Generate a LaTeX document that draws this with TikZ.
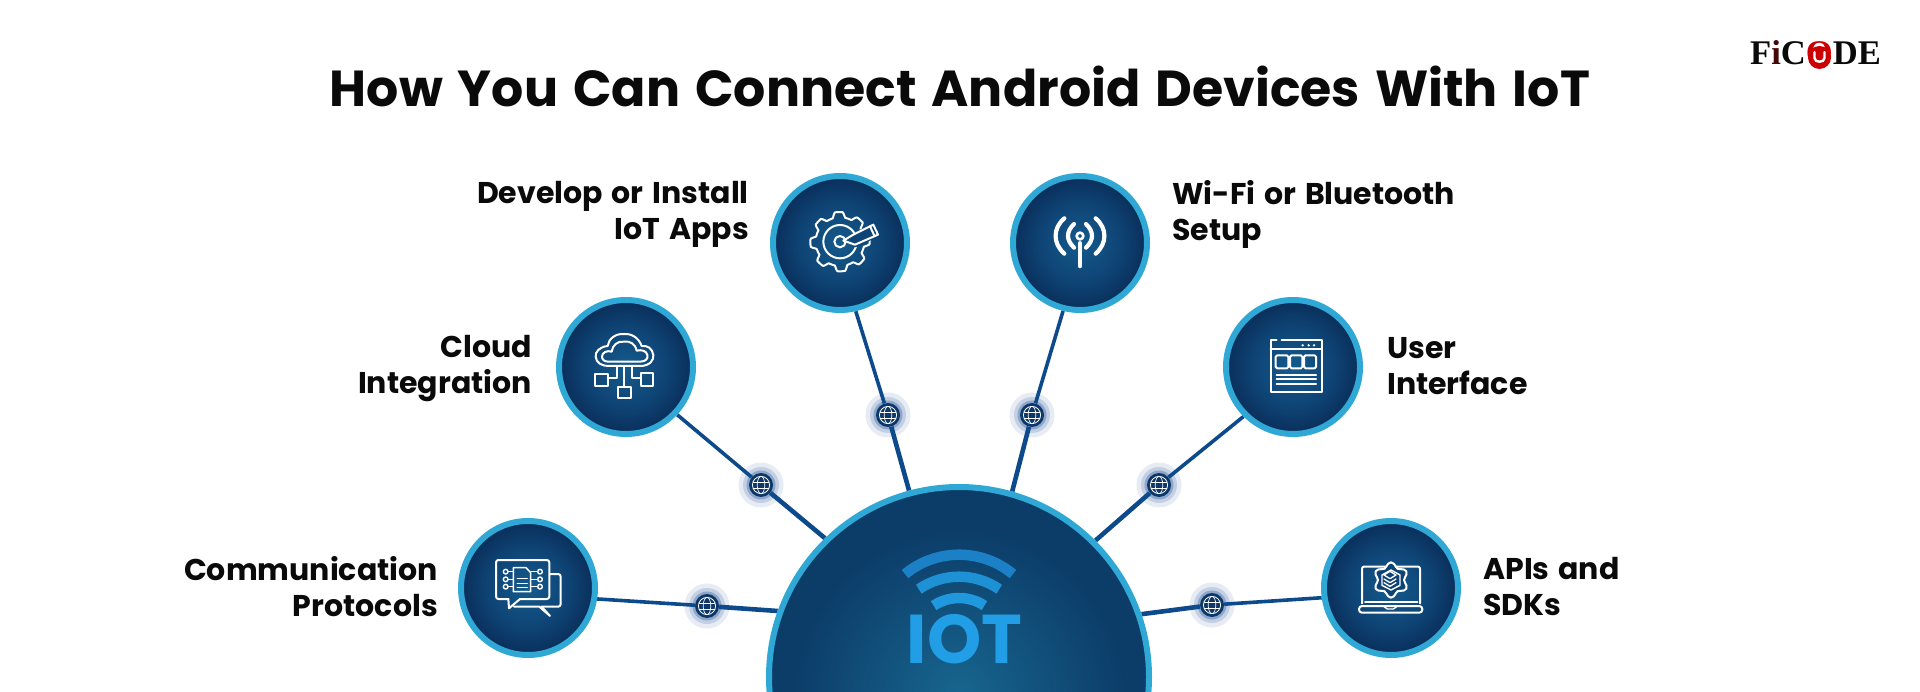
\documentclass[tikz,border=0pt]{standalone}
\usepackage{fontspec}
\setmainfont{Poppins}[WordSpace=1.4]
\newfontfamily\logofont{Liberation Serif}
\usetikzlibrary{backgrounds}
\definecolor{ring}{HTML}{2FA8D5}
\definecolor{linecol}{HTML}{0D4A8C}
\definecolor{coredark}{HTML}{0C3768}
\definecolor{huebase}{HTML}{0C3D69}
\definecolor{hglow}{HTML}{17668F}
\definecolor{cA}{HTML}{155A8C}
\definecolor{cB}{HTML}{0E4475}
\definecolor{cC}{HTML}{0A2E5A}
\definecolor{iotb}{HTML}{219EE6}
\definecolor{haloA}{HTML}{E6EBF4}
\definecolor{haloB}{HTML}{C3CFE3}
\definecolor{haloC}{HTML}{8FA6CB}
\definecolor{ink}{HTML}{0A0A0A}
\pgfdeclareradialshading{discshade}{\pgfpointorigin}{color(0bp)=(cA); color(15bp)=(cB); color(25bp)=(cC); color(50bp)=(cC)}
\pgfdeclareradialshading{hubshade}{\pgfpointorigin}{color(0bp)=(hglow); color(25bp)=(huebase); color(50bp)=(huebase)}
\tikzset{
  disc/.style={circle,shading=discshade,draw=ring,line width=6pt,minimum size=134pt,inner sep=0pt},
  hubnode/.style={circle,fill=huebase,draw=ring,line width=6pt,minimum size=380pt,inner sep=0pt},
  corenode/.style={circle,fill=coredark,minimum size=24pt,inner sep=0pt,
    path picture={
      \begin{scope}[shift={(path picture bounding box.center)},rotate=-25]
        \draw[white,line width=.8pt] (0,0) circle (8.6pt);
        \draw[white,line width=.7pt] (0,0) ellipse (3.8pt and 8.6pt);
        \draw[white,line width=.7pt] (-8pt,3pt) -- (8pt,3pt) (-8pt,-3pt) -- (8pt,-3pt);
      \end{scope}}},
  lbl/.style={font=\fontsize{30}{36}\selectfont\bfseries,text=ink,inner sep=0pt},
  lblL/.style={lbl,align=right,anchor=east},
  lblR/.style={lbl,align=left,anchor=west},
  outerlink/.style={draw=linecol,line width=3.6pt},
  innerlink/.style={draw=linecol,line width=4.6pt},
  icon/.style={draw=white,line width=2pt,line cap=round,line join=round},
  win/.style 2 args={shift={(#1,-#2)},x=.33333pt,y=-.33333pt},
  arcw/.style={line width=10.5pt}
}
\newcommand{\halo}[1]{%
  \fill[haloA] (#1) circle (22.5pt);
  \fill[haloB] (#1) circle (18pt);
  \fill[haloC] (#1) circle (14.5pt);
}
\begin{document}
\begin{tikzpicture}[x=1pt,y=1pt]
\useasboundingbox (0,0) rectangle (1920,-692);
\clip (0,0) rectangle (1920,-692);

% discs
\node[disc] (comm) at (528,-588) {};
\node[disc] (cloud) at (626,-367) {};
\node[disc] (dev) at (840,-243) {};
\node[disc] (wifi) at (1080,-243) {};
\node[disc] (ui) at (1293,-367) {};
\node[disc] (api) at (1391,-588) {};
\node[hubnode] (hub) at (959,-677) {};
\shade[shading=hubshade] (959,-695) circle (165pt);

% relay nodes
\node[corenode] (s1) at (707,-606) {};
\node[corenode] (s2) at (761,-485) {};
\node[corenode] (s3) at (888,-415) {};
\node[corenode] (s4) at (1032,-415) {};
\node[corenode] (s5) at (1159,-485) {};
\node[corenode] (s6) at (1212,-605) {};

% connectors and halos behind
\begin{scope}[on background layer]
  \fill[white] (0,0) rectangle (1920,-692);
  \halo{s1}\halo{s2}\halo{s3}\halo{s4}\halo{s5}\halo{s6}
  \draw[outerlink] (comm.-9) -- (s1);  \draw[innerlink] (s1) -- (hub.160);
  \draw[outerlink] (cloud.-43) -- (s2); \draw[innerlink] (s2) -- (hub.134);
  \draw[outerlink] (dev.-77) -- (s3);  \draw[innerlink] (s3) -- (hub.105);
  \draw[outerlink] (wifi.-104) -- (s4); \draw[innerlink] (s4) -- (hub.74.4);
  \draw[outerlink] (ui.-135.6) -- (s5); \draw[innerlink] (s5) -- (hub.45.6);
  \draw[outerlink] (api.188) -- (s6);  \draw[innerlink] (s6) -- (hub.19.8);
\end{scope}

% title and logo
\node[font=\fontsize{50.6}{60}\selectfont\bfseries,text=ink,inner sep=0pt] (title) at (960,-86) {How You Can Connect Android Devices With IoT};
\node[font=\logofont\fontsize{34.6}{36}\selectfont\bfseries,text=ink,inner sep=0pt,anchor=base west] (logo) at (1750,-65) {F\textcolor{ink!75!red}{i}C\textcolor{red!80!black}{O}DE};
\fill[red!80!black] (1819.5,-57.5) circle (11.5pt);
\draw[white,line width=2.4pt,line cap=round] (1814.5,-52) -- (1814.5,-58) .. controls (1814.5,-63) and (1824.5,-63) .. (1824.5,-58) -- (1824.5,-52);

% labels
\node[lblL] (l1) at (438,-586.5) {Communication\\Protocols};
\node[lblL] (l2) at (532,-369) {Cloud\\Integration};
\node[lblL] (l3) at (749,-214) {Develop or Install\\IoT Apps};
\node[lblR] (l4) at (1172,-214) {Wi-Fi or Bluetooth\\Setup};
\node[lblR] (l5) at (1387,-366) {User\\Interface};
\node[lblR] (l6) at (1483,-586.5) {APIs and\\SDKs};

% hub IoT mark
\draw[arcw,draw=iotb!85!black!95!blue] (959,-639.5)++(129.5:84.8) arc (129.5:50.5:84.8);
\draw[arcw,draw=iotb!92!black] (959,-647.7)++(124.5:71) arc (124.5:55.5:71);
\draw[arcw,draw=iotb!96!black] (959,-644)++(123.5:46) arc (123.5:56.5:46);
\node[font=\fontsize{69}{70}\selectfont\bfseries,text=iotb,inner sep=0pt,anchor=base] (iot) at (964.5,-663) {IOT};

% icon: communication
\begin{scope}[win={440}{500}]
  \draw[icon,rounded corners=2.5pt] (205,297) -- (168,297) -- (168,180) -- (328,180) -- (328,297) -- (240,297);
  \draw[icon] (205,297) -- (207,325) -- (240,297);
  \draw[icon,rounded corners=2.5pt] (330,222) -- (362,222) -- (362,320) -- (305,320);
  \draw[icon] (305,320) -- (330,348) -- (298,320) -- (222,320);
  \draw[icon,line width=1.5pt] (220,203) -- (258,203) -- (272,218) -- (272,275) -- (220,275) -- cycle;
  \draw[icon,line width=1.4pt] (232,235) -- (262,235) (232,250) -- (262,250) (232,263) -- (262,263);
  \foreach \y in {215,238,260} {
    \draw[icon,line width=1.4pt] (197,\y) circle (7);
    \draw[icon,line width=1.4pt] (300,\y) circle (7);
    \draw[icon,line width=1.4pt] (204,\y) -- (220,\y) (272,\y) -- (293,\y);
  }
\end{scope}

% icon: cloud
\begin{scope}[win={540}{280}]
  \draw[icon] (205,258) -- (300,258) .. controls (330,258) and (342,240) .. (340,225) .. controls (338,205) and (320,195) .. (305,198) .. controls (295,170) and (270,160) .. (252,162) .. controls (225,160) and (205,178) .. (203,198) .. controls (180,200) and (165,215) .. (167,230) .. controls (168,248) and (185,258) .. (205,258) -- cycle;
  \draw[icon] (205,245) -- (300,245) .. controls (318,245) and (325,235) .. (322,225) .. controls (320,213) and (305,208) .. (290,212) .. controls (285,190) and (270,183) .. (252,185) .. controls (232,183) and (218,195) .. (215,215) .. controls (200,210) and (186,218) .. (186,230) .. controls (186,240) and (195,245) .. (205,245) -- cycle;
  \draw[icon] (165,282) rectangle (203,318);
  \draw[icon] (233,320) rectangle (272,355);
  \draw[icon] (303,280) rectangle (340,318);
  \draw[icon] (253,262) -- (253,320);
  \draw[icon] (232,262) -- (232,295) -- (203,295);
  \draw[icon] (275,262) -- (275,295) -- (303,295);
\end{scope}

% icon: gear and pencil
\begin{scope}[win={760}{160}]
  \draw[icon] plot[domain=0:358,samples=180,smooth cycle] ({240+(81+8*max(-1,min(1,2.2*cos(8*\x+20))))*cos(\x)},{245+(81+8*max(-1,min(1,2.2*cos(8*\x+20))))*sin(\x)});
  \draw[icon] (240,245) circle (50);
  \draw[icon] (240,245) circle (17);
  \fill[cB] (262,232) -- (340,186) -- (360,228) -- (285,262) -- cycle;
  \draw[icon] (250,242) -- (278,225) -- (340,194) -- (354,224) -- (285,254) -- cycle;
  \draw[icon] (330,199) -- (344,229);
\end{scope}

% icon: antenna
\begin{scope}[win={760}{160}]
  \draw[icon,line width=2.6pt] (960,228) circle (10);
  \draw[icon,line width=4.6pt] (960,250) -- (960,318);
  \draw[icon,line width=4.2pt] (942,192) .. controls (918,215) and (918,240) .. (942,263);
  \draw[icon,line width=4.2pt] (978,192) .. controls (1002,215) and (1002,240) .. (978,263);
  \draw[icon,line width=4.2pt] (913,175) .. controls (878,205) and (878,250) .. (913,281);
  \draw[icon,line width=4.2pt] (1007,175) .. controls (1042,205) and (1042,250) .. (1007,281);
\end{scope}

% icon: user interface
\begin{scope}[win={1210}{290}]
  \draw[icon] (200,151) -- (182,151) -- (182,305) -- (336,305) -- (336,151) -- (215,151);
  \draw[icon] (182,178) -- (336,178);
  \fill[white] (278,166) circle (4) (296,166) circle (4) (312,166) circle (4);
  \draw[icon,rounded corners=1.5pt] (197,196) rectangle (235,235);
  \draw[icon,rounded corners=1.5pt] (240,196) rectangle (277,235);
  \draw[icon,rounded corners=1.5pt] (282,196) rectangle (318,235);
  \draw[icon] (200,255) -- (318,255) (200,268) -- (318,268) (200,283) -- (318,283);
\end{scope}

% icon: laptop with gear
\begin{scope}[win={1310}{510}]
  \draw[icon,rounded corners=2pt] (156,280) -- (156,170) -- (330,170) -- (330,280);
  \draw[icon] (165,275) -- (322,275);
  \draw[icon,rounded corners=3pt] (147,288) rectangle (337,308);
  \draw[icon,line width=1.4pt] (222,290) -- (232,297) -- (250,297) -- (260,290);
  \filldraw[icon,fill=cB] plot[domain=0:350,samples=36,smooth cycle] ({243+(46+7*cos(6*(\x-30)))*cos(\x)},{210+(46+7*cos(6*(\x-30)))*sin(\x)});
  \draw[icon,line width=1.4pt] (243,180) -- (270,195) -- (270,226) -- (243,240) -- (216,226) -- (216,195) -- cycle;
  \draw[icon,line width=1.3pt] (240,184) -- (258,195) -- (240,206) -- (222,195) -- cycle;
  \draw[icon,line width=1.3pt] (222,207) -- (240,218) -- (258,207);
  \draw[icon,line width=1.3pt] (222,218) -- (240,229) -- (258,218);
\end{scope}
\end{tikzpicture}
\end{document}
